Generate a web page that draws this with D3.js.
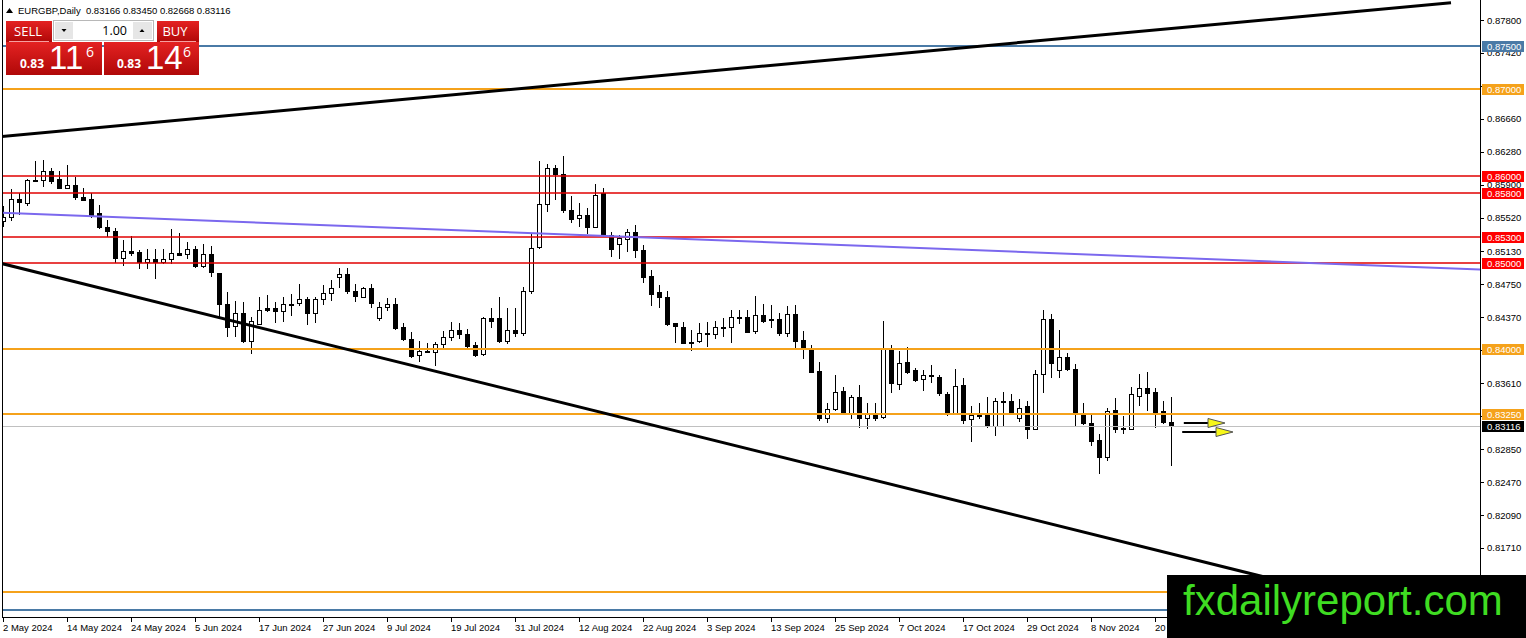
<!DOCTYPE html>
<html lang="en">
<head>
<meta charset="utf-8">
<title>EURGBP,Daily</title>
<script src="https://cdn.jsdelivr.net/npm/d3@7"></script>
<style>
  html, body { margin: 0; padding: 0; background: #fff; overflow: hidden; }
  svg { display: block; font-family: "Liberation Sans", Arial, sans-serif; }
</style>
</head>
<body>
<div id="chart"></div>
<script>

// ---- data ----
var symbol = "EURGBP,Daily";

var tickLabels = ["2 May 2024", "14 May 2024", "24 May 2024", "5 Jun 2024", "17 Jun 2024",
  "27 Jun 2024", "9 Jul 2024", "19 Jul 2024", "31 Jul 2024", "12 Aug 2024", "22 Aug 2024",
  "3 Sep 2024", "13 Sep 2024", "25 Sep 2024", "7 Oct 2024", "17 Oct 2024", "29 Oct 2024",
  "8 Nov 2024", "20 Nov 2024"];

var opens = [0.8548,0.8553,0.8574,0.8570,0.8596,0.8596,0.8606,0.8597,0.8587,0.8590,
0.8576,0.8573,0.8557,0.8541,0.8537,0.8506,0.8514,0.8512,0.8500,0.8504,
0.8500,0.8504,0.8511,0.8510,0.8516,0.8496,0.8510,0.8488,0.8452,0.8427,
0.8442,0.8410,0.8430,0.8448,0.8448,0.8444,0.8452,0.8453,0.8458,0.8442,
0.8458,0.8465,0.8484,0.8487,0.8467,0.8461,0.8471,0.8436,0.8449,0.8453,
0.8426,0.8412,0.8393,0.8398,0.8397,0.8406,0.8415,0.8423,0.8418,0.8405,
0.8395,0.8436,0.8436,0.8409,0.8422,0.8418,0.8467,0.8518,0.8568,0.8609,
0.8602,0.8561,0.8551,0.8555,0.8541,0.8580,0.8532,0.8521,0.8528,0.8536,
0.8515,0.8485,0.8466,0.8461,0.8430,0.8426,0.8409,0.8410,0.8419,0.8418,
0.8426,0.8426,0.8438,0.8438,0.8421,0.8440,0.8435,0.8435,0.8419,0.8441,
0.8411,0.8401,0.8375,0.8321,0.8331,0.8352,0.8327,0.8345,0.8321,0.8327,
0.8321,0.8400,0.8360,0.8385,0.8376,0.8366,0.8370,0.8368,0.8349,0.8327,
0.8359,0.8319,0.8324,0.8325,0.8312,0.8341,0.8341,0.8321,0.8335,0.8308,
0.8372,0.8435,0.8376,0.8391,0.8377,0.8324,0.8315,0.8296,0.8276,0.8330,
0.8309,0.8309,0.8347,0.8356,0.8351,0.8329,0.83166];

var highs = [0.8565,0.8585,0.8580,0.8597,0.8617,0.8619,0.8609,0.8606,0.8613,0.8599,
0.8586,0.8580,0.8567,0.8549,0.8540,0.8526,0.8531,0.8515,0.8516,0.8516,
0.8516,0.8539,0.8534,0.8524,0.8519,0.8522,0.8519,0.8488,0.8466,0.8456,
0.8455,0.8438,0.8460,0.8463,0.8455,0.8460,0.8464,0.8476,0.8461,0.8461,
0.8474,0.8480,0.8494,0.8494,0.8476,0.8472,0.8476,0.8455,0.8459,0.8459,
0.8430,0.8420,0.8410,0.8407,0.8409,0.8421,0.8432,0.8430,0.8424,0.8409,
0.8438,0.8448,0.8460,0.8448,0.8448,0.8472,0.8534,0.8617,0.8614,0.8613,
0.8623,0.8577,0.8569,0.8563,0.8591,0.8586,0.8536,0.8532,0.8539,0.8544,
0.8521,0.8492,0.8474,0.8467,0.8430,0.8432,0.8422,0.8430,0.8432,0.8433,
0.8436,0.8445,0.8445,0.8445,0.8462,0.8453,0.8451,0.8442,0.8450,0.8451,
0.8421,0.8405,0.8386,0.8338,0.8371,0.8357,0.8348,0.8359,0.8338,0.8338,
0.8433,0.8405,0.8398,0.8403,0.8379,0.8376,0.8382,0.8371,0.8351,0.8378,
0.8367,0.8335,0.8338,0.8345,0.8344,0.8351,0.8349,0.8343,0.8340,0.8376,
0.8446,0.8441,0.8422,0.8396,0.8383,0.8338,0.8324,0.8303,0.8332,0.8344,
0.8323,0.8357,0.8372,0.8374,0.8355,0.8340,0.83450];

var lows = [0.8542,0.8549,0.8556,0.8567,0.8594,0.8589,0.8592,0.8587,0.8586,0.8573,
0.8572,0.8553,0.8540,0.8531,0.8501,0.8497,0.8509,0.8494,0.8494,0.8482,
0.8500,0.8500,0.8509,0.8505,0.8495,0.8495,0.8485,0.8438,0.8416,0.8416,
0.8409,0.8396,0.8429,0.8444,0.8432,0.8433,0.8440,0.8451,0.8429,0.8432,
0.8452,0.8457,0.8472,0.8465,0.8456,0.8460,0.8449,0.8434,0.8446,0.8424,
0.8411,0.8391,0.8387,0.8397,0.8382,0.8402,0.8411,0.8413,0.8401,0.8392,
0.8394,0.8426,0.8409,0.8408,0.8415,0.8417,0.8465,0.8517,0.8560,0.8574,
0.8559,0.8547,0.8542,0.8534,0.8541,0.8531,0.8508,0.8506,0.8513,0.8507,
0.8478,0.8451,0.8449,0.8428,0.8409,0.8407,0.8399,0.8409,0.8404,0.8413,
0.8416,0.8409,0.8431,0.8420,0.8419,0.8432,0.8426,0.8417,0.8416,0.8401,
0.8390,0.8374,0.8319,0.8316,0.8330,0.8327,0.8321,0.8311,0.8309,0.8319,
0.8321,0.8351,0.8354,0.8373,0.8364,0.8353,0.8363,0.8347,0.8324,0.8326,
0.8315,0.8294,0.8321,0.8311,0.8301,0.8312,0.8326,0.8318,0.8298,0.8308,
0.8351,0.8368,0.8368,0.8376,0.8312,0.8314,0.8290,0.8257,0.8273,0.8305,
0.8304,0.8308,0.8336,0.8330,0.8311,0.8315,0.82668];

var closes = [0.8553,0.8574,0.8570,0.8596,0.8595,0.8606,0.8595,0.8587,0.8590,0.8576,
0.8573,0.8555,0.8541,0.8536,0.8506,0.8514,0.8512,0.8500,0.8504,0.8500,
0.8504,0.8511,0.8509,0.8516,0.8496,0.8510,0.8489,0.8452,0.8426,0.8442,
0.8410,0.8433,0.8446,0.8446,0.8444,0.8452,0.8452,0.8458,0.8442,0.8458,
0.8465,0.8471,0.8487,0.8467,0.8461,0.8471,0.8454,0.8449,0.8453,0.8425,
0.8412,0.8392,0.8398,0.8398,0.8406,0.8414,0.8423,0.8418,0.8404,0.8394,
0.8436,0.8433,0.8409,0.8422,0.8418,0.8467,0.8517,0.8568,0.8609,0.8602,
0.8560,0.8551,0.8555,0.8541,0.8578,0.8532,0.8516,0.8528,0.8536,0.8515,
0.8484,0.8464,0.8460,0.8430,0.8426,0.8408,0.8409,0.8419,0.8418,0.8426,
0.8426,0.8438,0.8437,0.8421,0.8440,0.8433,0.8434,0.8419,0.8441,0.8410,
0.8401,0.8374,0.8321,0.8331,0.8351,0.8327,0.8345,0.8321,0.8327,0.8321,
0.8400,0.8361,0.8384,0.8374,0.8365,0.8371,0.8370,0.8349,0.8327,0.8358,
0.8319,0.8324,0.8324,0.8312,0.8341,0.8341,0.8326,0.8333,0.8309,0.8372,
0.8435,0.8384,0.8391,0.8377,0.8327,0.8315,0.8294,0.8276,0.8329,0.8308,
0.8309,0.8349,0.8356,0.8350,0.8328,0.8316,0.83116];

var priceTicks = [0.87800, 0.87420, 0.87040, 0.86660, 0.86280, 0.85900, 0.85520, 0.85130,
  0.84750, 0.84370, 0.83990, 0.83610, 0.83230, 0.82850, 0.82470, 0.82090, 0.81710];

// horizontal levels and their kind
var levelPrices = [0.8750, 0.8700, 0.8600, 0.8580, 0.8530, 0.8500, 0.8400, 0.8325, 0.8120, 0.8100];
var levelKinds  = ["blue", "orange", "red", "red", "red", "red", "orange", "orange", "orange", "blue"];

// trend lines as [bar index, price]
var upperTrend = [[-1, 0.8645], [181, 0.8800]];
var lowerTrend = [[-1, 0.8501], [185, 0.8075]];
var maLine     = [[-1, 0.8558], [185, 0.8492]];

// arrows: [start index, end index, price]
var arrows = [[147.6, 152.75, 0.83155], [147.4, 153.75, 0.83051]];

var bid = 0.83116, ask = 0.83146, lotSize = "1.00";

// ---- layout ----
var W = 1526, H = 638;
var plotL = 2, plotR = 1480, plotT = 0, plotB = 617;
var markTop = 575;   // top of the watermark box

var kindStyle = {
  blue:   { line: "#4a7aa6", width: 2, label: "#4a7aa6" },
  orange: { line: "#f5a21b", width: 2, label: "#f5a21b" },
  red:    { line: "#e00000", width: 1.4, label: "#ff0000" }
};

var x = d3.scaleLinear().domain([0, closes.length - 1]).range([3, 3 + 8 * (closes.length - 1)]);
var y = d3.scaleLinear().domain([0.80914, 0.88031]).range([plotB, plotT]);

function crisp(v, w) { return Math.round(v) + (w % 2 ? 0.5 : 0); }

var svg = d3.select("#chart").append("svg")
  .attr("width", W).attr("height", H);

var defs = svg.append("defs");
defs.append("clipPath").attr("id", "plot")
  .append("rect").attr("x", plotL).attr("y", plotT)
  .attr("width", plotR - plotL).attr("height", plotB - plotT);

var bars = closes.map(function(c, i) {
  return { i: i, o: opens[i], h: highs[i], l: lows[i], c: c };
});

// candles
var cg = svg.append("g").attr("clip-path", "url(#plot)").attr("shape-rendering", "crispEdges");
cg.selectAll("line.wick").data(bars).enter().append("line")
  .attr("class", "wick")
  .attr("x1", function(d) { return x(d.i) + 0.5; })
  .attr("x2", function(d) { return x(d.i) + 0.5; })
  .attr("y1", function(d) { return Math.round(y(d.h)); })
  .attr("y2", function(d) { return Math.round(y(d.l)) + 1; })
  .attr("stroke", "#000");
cg.selectAll("rect.body").data(bars).enter().append("rect")
  .attr("class", "body")
  .attr("x", function(d) { return x(d.i) - 1.5; })
  .attr("width", 4)
  .attr("y", function(d) { return Math.round(y(Math.max(d.o, d.c))) + 0.5; })
  .attr("height", function(d) { return Math.max(1, Math.round(Math.abs(y(d.o) - y(d.c)))); })
  .attr("fill", function(d) { return d.c > d.o ? "#fff" : "#000"; })
  .attr("stroke", "#000");

// objects
var og = svg.append("g").attr("clip-path", "url(#plot)");

og.append("line")
  .attr("x1", plotL).attr("x2", plotR)
  .attr("y1", crisp(y(bid), 1)).attr("y2", crisp(y(bid), 1))
  .attr("stroke", "#c0c0c0").attr("stroke-width", 1)
  .attr("shape-rendering", "crispEdges");

og.selectAll("line.level").data(levelPrices).enter().append("line")
  .attr("class", "level")
  .attr("x1", plotL).attr("x2", plotR)
  .attr("y1", function(d) { return Math.round(y(d)); })
  .attr("y2", function(d) { return Math.round(y(d)); })
  .attr("stroke", function(d, i) { return kindStyle[levelKinds[i]].line; })
  .attr("stroke-width", function(d, i) { return kindStyle[levelKinds[i]].width; });

var trend = d3.line().x(function(d) { return x(d[0]); }).y(function(d) { return y(d[1]); });

og.append("path").attr("d", trend(maLine))
  .attr("fill", "none").attr("stroke", "#7b68ee").attr("stroke-width", 2);
og.append("path").attr("d", trend(upperTrend))
  .attr("fill", "none").attr("stroke", "#000").attr("stroke-width", 3);
og.append("path").attr("d", trend(lowerTrend))
  .attr("fill", "none").attr("stroke", "#000").attr("stroke-width", 3);

// arrows
arrows.forEach(function(a) {
  var x0 = x(a[0]), x1 = x(a[1]), yy = Math.round(y(a[2]));
  og.append("line").attr("x1", x0).attr("x2", x1 - 17).attr("y1", yy).attr("y2", yy)
    .attr("stroke", "#000").attr("stroke-width", 2);
  og.append("path")
    .attr("d", "M" + (x1 - 17) + "," + (yy - 4.5) + "L" + x1 + "," + yy + "L" + (x1 - 17) + "," + (yy + 4.5) + "Z")
    .attr("fill", "#f7f71a").attr("stroke", "#555").attr("stroke-width", 1);
});

// frame
var fr = svg.append("g").attr("stroke", "#000").attr("shape-rendering", "crispEdges");
fr.append("line").attr("x1", plotL + 0.5).attr("x2", plotL + 0.5).attr("y1", plotT).attr("y2", plotB);
fr.append("line").attr("x1", plotR + 0.5).attr("x2", plotR + 0.5).attr("y1", plotT).attr("y2", plotB + 1);
fr.append("line").attr("x1", plotL).attr("x2", plotR + 1).attr("y1", plotB + 0.5).attr("y2", plotB + 0.5);

// level labels that sit above the watermark
var labelData = levelPrices.map(function(p, i) { return { p: p, kind: levelKinds[i] }; })
  .filter(function(d) { return y(d.p) + 6 < markTop; });
labelData.push({ p: bid, kind: "last" });

// price axis: tick labels hidden under a level label are left out
var ax = svg.append("g").attr("font-size", "9.5px").attr("fill", "#000");
ax.selectAll("line.tick").data(priceTicks).enter().append("line")
  .attr("x1", plotR).attr("x2", plotR + 4)
  .attr("y1", function(d) { return crisp(y(d), 1); })
  .attr("y2", function(d) { return crisp(y(d), 1); })
  .attr("stroke", "#000").attr("shape-rendering", "crispEdges");
ax.selectAll("text.tick")
  .data(priceTicks.filter(function(t) {
    return !labelData.some(function(d) { return Math.abs(y(d.p) - y(t)) < 5; });
  }))
  .enter().append("text")
  .attr("x", plotR + 7).attr("y", function(d) { return y(d) + 3.5; })
  .text(function(d) { return d.toFixed(5); });

var lab = ax.selectAll("g.lab").data(labelData).enter().append("g");
lab.append("rect")
  .attr("x", plotR + 2).attr("y", function(d) { return Math.round(y(d.p)) - 5; })
  .attr("width", 42).attr("height", 11)
  .attr("fill", function(d) { return d.kind === "last" ? "#000" : kindStyle[d.kind].label; });
lab.append("text")
  .attr("x", plotR + 7).attr("y", function(d) { return Math.round(y(d.p)) + 4; })
  .attr("fill", "#fff")
  .text(function(d) { return d.p.toFixed(5); });

// time axis
var tx = svg.append("g").attr("font-size", "9.5px").attr("fill", "#000");
tx.selectAll("line").data(tickLabels).enter().append("line")
  .attr("x1", function(d, i) { return x(i * 8) + 0.5; })
  .attr("x2", function(d, i) { return x(i * 8) + 0.5; })
  .attr("y1", plotB).attr("y2", plotB + 5)
  .attr("stroke", "#000").attr("shape-rendering", "crispEdges");
tx.selectAll("text").data(tickLabels).enter().append("text")
  .attr("x", function(d, i) { return x(i * 8); })
  .attr("y", plotB + 14)
  .text(function(d) { return d; });

// header
var last = bars[bars.length - 1];
svg.append("path").attr("d", "M6,13L9.5,8L13,13Z").attr("fill", "#000");
svg.append("text").attr("x", 18).attr("y", 14).attr("font-size", "9.5px")
  .style("white-space", "pre")
  .text(symbol + "  " + [last.o, last.h, last.l, last.c].map(function(v) { return v.toFixed(5); }).join(" "));

// one click trading panel
var grad = defs.append("linearGradient").attr("id", "redGrad").attr("x1", 0).attr("y1", 0).attr("x2", 0).attr("y2", 1);
grad.append("stop").attr("offset", "0%").attr("stop-color", "#e42222");
grad.append("stop").attr("offset", "100%").attr("stop-color", "#b00808");

var panel = svg.append("g").attr("font-family", "'Open Sans', 'Noto Sans', sans-serif");

// SELL
panel.append("rect").attr("x", 6).attr("y", 42).attr("width", 96).attr("height", 33).attr("fill", "url(#redGrad)");
panel.append("rect").attr("x", 6).attr("y", 21).attr("width", 46).attr("height", 21).attr("fill", "url(#redGrad)");
panel.append("line").attr("x1", 9).attr("x2", 49).attr("y1", 41.5).attr("y2", 41.5).attr("stroke", "#f6a0a0");
panel.append("text").attr("x", 28).attr("y", 36).attr("text-anchor", "middle")
  .attr("font-size", "13px").attr("fill", "#fff").text("SELL");

// BUY
panel.append("rect").attr("x", 104).attr("y", 42).attr("width", 95).attr("height", 33).attr("fill", "url(#redGrad)");
panel.append("rect").attr("x", 157).attr("y", 21).attr("width", 42).attr("height", 21).attr("fill", "url(#redGrad)");
panel.append("line").attr("x1", 160).attr("x2", 196).attr("y1", 41.5).attr("y2", 41.5).attr("stroke", "#f6a0a0");
panel.append("text").attr("x", 175).attr("y", 36).attr("text-anchor", "middle")
  .attr("font-size", "13px").attr("fill", "#fff").text("BUY");

// lot spinner
panel.append("rect").attr("x", 53.5).attr("y", 20.5).attr("width", 100).attr("height", 20)
  .attr("fill", "#fff").attr("stroke", "#b8b8b8");
panel.append("rect").attr("x", 55).attr("y", 22).attr("width", 18).attr("height", 17).attr("fill", "#e6e6e6");
panel.append("rect").attr("x", 133).attr("y", 22).attr("width", 19).attr("height", 17).attr("fill", "#e6e6e6");
panel.append("path").attr("d", "M61.5,29L66.5,29L64,32Z").attr("fill", "#000");
panel.append("path").attr("d", "M139.5,32L144.5,32L142,29Z").attr("fill", "#000");
panel.append("text").attr("x", 127).attr("y", 35).attr("text-anchor", "end")
  .attr("font-size", "12.5px").attr("fill", "#000").text(lotSize);

function quote(price, x0) {
  var s = price.toFixed(5);
  panel.append("text").attr("x", x0).attr("y", 68).attr("font-size", "12px")
    .attr("font-weight", "bold").attr("fill", "#fff").text(s.slice(0, 4));
  panel.append("text").attr("x", x0 + 29).attr("y", 69).attr("font-size", "33px")
    .attr("font-family", "'Liberation Sans', Arial, sans-serif")
    .attr("fill", "#fff").text(s.slice(4, 6));
  panel.append("text").attr("x", x0 + 66).attr("y", 57).attr("font-size", "14px")
    .attr("fill", "#fff").text(s.slice(6));
}
quote(bid, 20);
quote(ask, 117);

// watermark
svg.append("rect").attr("x", 1167).attr("y", markTop).attr("width", W - 1167).attr("height", H - markTop)
  .attr("fill", "#000");
svg.append("text").attr("x", 1183).attr("y", 615)
  .attr("font-family", "'Liberation Sans', Arial, sans-serif")
  .attr("font-size", "42px").attr("fill", "#3fdc22")
  .text("fxdailyreport.com");

</script>
</body>
</html>
